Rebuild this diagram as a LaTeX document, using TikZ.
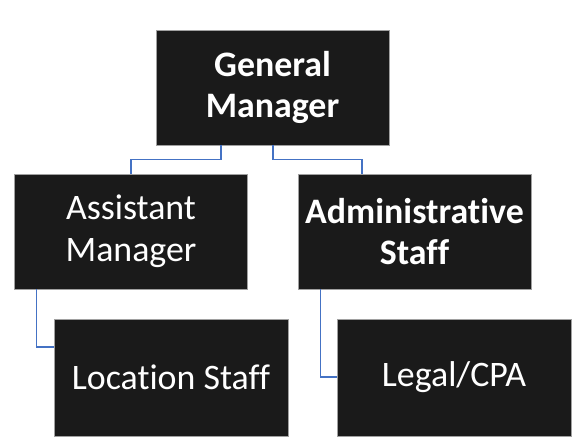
\documentclass[tikz,border=0pt]{standalone}
\usepackage{fontspec}
\setmainfont[Ligatures=NoCommon]{Carlito}
\usepackage{xcolor}
\definecolor{boxfill}{RGB}{26,26,26}
\definecolor{boxline}{RGB}{160,160,160}
\definecolor{linkblue}{RGB}{68,114,196}

\begin{document}
\begin{tikzpicture}[x=1bp, y=-1bp,
		box/.style={draw=boxline, fill=boxfill, line width=0.6bp, text=white, inner sep=0pt, minimum width=233bp, minimum height=115bp, align=center, font=\fontsize{36}{42}\selectfont},
		link/.style={draw=linkblue, line width=1.1bp}]
%		    \draw[help lines] (0,0) grid[step=50] (584,445);
			\useasboundingbox (0,0) rectangle (584,445);
			\node[box] (gm) at (272.5,87.5) {\textbf{General}\\ \textbf{Manager}};
			\node[box] (asst) at (131,231.5) {Assistant\\ Manager};
			\node[box] (admin) at (414.5,231.5) {\textbf{Administrative}\\ \textbf{Staff}};
			\node[box, minimum width=234bp, minimum height=117bp] (loc) at (171,377.5) {Location Staff};
			\node[box, minimum width=234bp, minimum height=117bp] (legal) at (454,377.5) {Legal/CPA};
			\draw[link] ([xshift=-51.5bp]gm.south) -- ++(0,14) -| (asst.north);
			\draw[link] ([xshift=0.5bp]gm.south) -- ++(0,14) -| ([xshift=-52.5bp]admin.north);
			\draw[link] ([xshift=22bp]asst.south west) |- ([yshift=30.5bp]loc.west);
			\draw[link] ([xshift=23bp]admin.south west) |- ([yshift=0.5bp]legal.west);
		\end{tikzpicture}
\end{document}
